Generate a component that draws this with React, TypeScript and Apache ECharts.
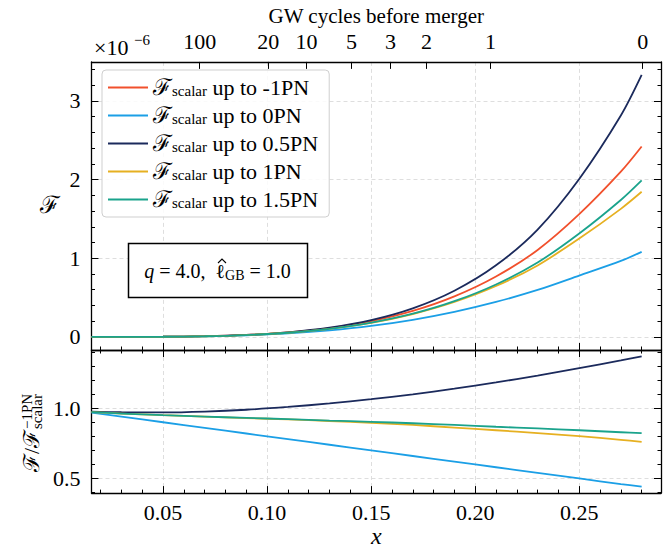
import React, { useEffect, useRef } from "react";
import * as echarts from "echarts";

// ---------- data ----------
const xValues = [0.0156, 0.03, 0.05, 0.07, 0.09, 0.11, 0.13, 0.15, 0.17, 0.19, 0.21, 0.23, 0.25, 0.27, 0.28];

// flux, units of 1e-6
const fluxM1PN = [0.00002, 0.0003, 0.0025, 0.0095, 0.026, 0.058, 0.113, 0.2, 0.33, 0.515, 0.768, 1.105, 1.56, 2.1, 2.42];
const flux0PN = [0.00002, 0.00028, 0.00225, 0.0082, 0.0213, 0.0452, 0.0836, 0.14, 0.218, 0.319, 0.445, 0.597, 0.78, 0.966, 1.082];
const flux05PN = [0.00002, 0.00029, 0.00243, 0.0093, 0.0257, 0.0586, 0.117, 0.213, 0.363, 0.587, 0.91, 1.365, 2.008, 2.814, 3.33];
const flux1PN = [0.00002, 0.00029, 0.00238, 0.0089, 0.0242, 0.0534, 0.1027, 0.179, 0.291, 0.444, 0.647, 0.909, 1.25, 1.628, 1.845];
const flux15PN = [0.00002, 0.00029, 0.00238, 0.0089, 0.0242, 0.0535, 0.103, 0.181, 0.295, 0.454, 0.667, 0.946, 1.315, 1.741, 1.99];

// ratio to -1PN
const ratio0PN = [0.969, 0.94, 0.9, 0.86, 0.82, 0.78, 0.74, 0.7, 0.66, 0.62, 0.58, 0.54, 0.5, 0.46, 0.442];
const ratio05PN = [0.975, 0.971, 0.97, 0.976, 0.989, 1.009, 1.034, 1.064, 1.099, 1.139, 1.183, 1.232, 1.285, 1.34, 1.368];
const ratio1PN = [0.972, 0.962, 0.95, 0.94, 0.93, 0.92, 0.909, 0.896, 0.881, 0.862, 0.843, 0.823, 0.801, 0.775, 0.76];
const ratio15PN = [0.972, 0.962, 0.95, 0.94, 0.931, 0.922, 0.912, 0.903, 0.893, 0.881, 0.868, 0.856, 0.843, 0.829, 0.822];

const legendNames = ["-1PN", "0PN", "0.5PN", "1PN", "1.5PN"];
const colors = ["#F1502C", "#1B9FE6", "#1B2A5C", "#E6B021", "#1AA38C"];

// ticks
const majorXTicks = [0.05, 0.1, 0.15, 0.2, 0.25];
const minorXTicks = [0.02, 0.03, 0.04, 0.06, 0.07, 0.08, 0.09, 0.11, 0.12, 0.13, 0.14, 0.16, 0.17, 0.18, 0.19, 0.21, 0.22, 0.23, 0.24, 0.26, 0.27, 0.28];
const gwCycleX = [0.0676, 0.1005, 0.1189, 0.1406, 0.1593, 0.1766, 0.2074, 0.2805];
const gwCycleLabels = ["100", "20", "10", "5", "3", "2", "1", "0"];
const topYMajor = [0, 1, 2, 3];
const topYMinor = [0.2, 0.4, 0.6, 0.8, 1.2, 1.4, 1.6, 1.8, 2.2, 2.4, 2.6, 2.8, 3.2, 3.4];
const botYMajor = [0.5, 1.0];
const botYMinor = [0.4, 0.6, 0.7, 0.8, 0.9, 1.1, 1.2, 1.3, 1.4];

const X_MIN = 0.0156;
const X_MAX = 0.2893;
const TOP_Y_MIN = -0.166;
const TOP_Y_MAX = 3.496;
const BOT_Y_MIN = 0.396;
const BOT_Y_MAX = 1.414;

const FONT = "Liberation Serif";
const GRID_LINE = { color: "#d6d6d6", width: 0.8, type: [4, 3] as any };
const AXIS_LINE = { color: "#000", width: 1.3 };

function axis(
  kind: "x" | "y",
  gridIndex: number,
  position: string,
  ticks: number[],
  tickLen: number,
  opts: { line?: boolean; labels?: boolean; split?: boolean; formatter?: any; margin?: number; extra?: any } = {}
) {
  const isX = kind === "x";
  const min = isX ? X_MIN : gridIndex === 0 ? TOP_Y_MIN : BOT_Y_MIN;
  const max = isX ? X_MAX : gridIndex === 0 ? TOP_Y_MAX : BOT_Y_MAX;
  return {
    type: "value",
    gridIndex,
    position,
    min,
    max,
    splitNumber: !isX && gridIndex === 1 ? 2 : 5,
    axisLine: { show: !!opts.line, onZero: false, lineStyle: AXIS_LINE },
    axisTick: {
      show: true,
      inside: true,
      length: tickLen,
      customValues: ticks,
      lineStyle: { color: "#000", width: 1 },
    },
    axisLabel: opts.labels
      ? {
          show: true,
          customValues: ticks,
          formatter: opts.formatter,
          margin: opts.margin ?? 8,
          fontFamily: FONT,
          fontSize: 22,
          color: "#000",
        }
      : { show: false },
    splitLine: opts.split ? { show: true, lineStyle: GRID_LINE } : { show: false },
    minorTick: { show: false },
    axisPointer: { show: false },
    ...(opts.extra || {}),
  };
}

export default function App() {
  const ref = useRef<HTMLDivElement>(null);

  useEffect(() => {
    if (!ref.current) return;
    const chart = echarts.init(ref.current, undefined, { renderer: "svg" });

    const xAxis = [
      axis("x", 0, "bottom", majorXTicks, 7, { line: true, split: true }),
      axis("x", 0, "bottom", minorXTicks, 3.5),
      axis("x", 0, "top", gwCycleX, 7, {
        line: true,
        labels: true,
        margin: 9,
        formatter: (v: number) => {
          const i = gwCycleX.findIndex((g) => Math.abs(g - v) < 1e-6);
          return i >= 0 ? gwCycleLabels[i] : "";
        },
        extra: {
          name: "GW cycles before merger",
          nameLocation: "middle",
          nameGap: 29,
          nameTextStyle: { fontFamily: FONT, fontSize: 21, color: "#000" },
        },
      }),
      axis("x", 1, "bottom", majorXTicks, 7, {
        line: true,
        split: true,
        labels: true,
        margin: 8,
        formatter: (v: number) => v.toFixed(2),
        extra: {
          name: "x",
          nameLocation: "middle",
          nameGap: 23,
          nameTextStyle: { fontFamily: FONT, fontSize: 24, fontStyle: "italic", color: "#000" },
        },
      }),
      axis("x", 1, "bottom", minorXTicks, 3.5),
      axis("x", 1, "top", majorXTicks, 7, { line: true }),
      axis("x", 1, "top", minorXTicks, 3.5),
    ];

    const yAxis = [
      axis("y", 0, "left", topYMajor, 7, {
        line: true,
        split: true,
        labels: true,
        margin: 11,
        formatter: (v: number) => String(Math.round(v)),
      }),
      axis("y", 0, "left", topYMinor, 3.5),
      axis("y", 0, "right", topYMajor, 7, { line: true }),
      axis("y", 0, "right", topYMinor, 3.5),
      axis("y", 1, "left", botYMajor, 7, {
        line: true,
        split: true,
        labels: true,
        margin: 11,
        formatter: (v: number) => v.toFixed(1),
      }),
      axis("y", 1, "left", botYMinor, 3.5),
      axis("y", 1, "right", botYMajor, 7, { line: true }),
      axis("y", 1, "right", botYMinor, 3.5),
    ];

    const topFlux = [fluxM1PN, flux0PN, flux05PN, flux1PN, flux15PN];
    const ratios = [null, ratio0PN, ratio05PN, ratio1PN, ratio15PN];

    const series: any[] = [];
    topFlux.forEach((arr, k) => {
      series.push({
        type: "line",
        name: legendNames[k],
        xAxisIndex: 0,
        yAxisIndex: 0,
        data: xValues.map((x, i) => [x, arr[i]]),
        showSymbol: false,
        smooth: 0.3,
        color: colors[k],
        lineStyle: { width: 1.8, color: colors[k] },
        z: 3,
      });
    });
    ratios.forEach((arr, k) => {
      if (!arr) return;
      series.push({
        type: "line",
        name: "ratio " + legendNames[k],
        xAxisIndex: 3,
        yAxisIndex: 4,
        data: xValues.map((x, i) => [x, arr[i]]),
        showSymbol: false,
        smooth: 0.3,
        color: colors[k],
        lineStyle: { width: 1.8, color: colors[k] },
        z: 3,
      });
    });

    const option: any = {
      animation: false,
      backgroundColor: "#fff",
      grid: [
        { left: 91.5, right: 2, top: 61, height: 289 },
        { left: 91.5, right: 2, top: 350, height: 145 },
      ],
      xAxis,
      yAxis,
      legend: {
        data: legendNames,
        orient: "vertical",
        left: 102,
        top: 70,
        padding: [6, 11, 6, 6],
        itemWidth: 40,
        itemHeight: 2,
        itemGap: 5,
        itemTextGap: 15,
        icon: "rect",
        selectedMode: false,
        backgroundColor: "rgba(255,255,255,0.85)",
        borderColor: "#cfcfcf",
        borderWidth: 1,
        borderRadius: 4,
        formatter: (name: string) => `{f|ℱ}{s|scalar}{t| up to ${name}}`,
        textStyle: {
          fontFamily: FONT,
          fontSize: 22,
          color: "#000",
          rich: {
            f: { fontFamily: FONT, fontSize: 23, lineHeight: 22, color: "#000" },
            s: { fontFamily: FONT, fontSize: 15, lineHeight: 10, verticalAlign: "bottom", color: "#000" },
            t: { fontFamily: FONT, fontSize: 22, lineHeight: 22, color: "#000" },
          },
        },
      },
      series,
      graphic: [
        {
          type: "rect",
          shape: { x: 128.5, y: 243.5, width: 179, height: 54 },
          style: { fill: "#fff", stroke: "#000", lineWidth: 1.5 },
          z: 10,
        },
        {
          type: "text",
          x: 217.5,
          y: 271,
          z: 11,
          style: {
            text: "{i|q} = 4.0,  {l|ℓ}{s|GB} = 1.0",
            align: "center",
            verticalAlign: "middle",
            fontFamily: FONT,
            fontSize: 20,
            fill: "#000",
            rich: {
              i: { fontFamily: FONT, fontSize: 20, fontStyle: "italic", lineHeight: 22 },
              l: { fontFamily: FONT, fontSize: 20, lineHeight: 22 },
              s: { fontFamily: FONT, fontSize: 14, lineHeight: 10, verticalAlign: "bottom" },
            },
          },
        },
        {
          type: "polyline",
          z: 12,
          shape: { points: [[218, 263], [222, 259], [226, 263]] },
          style: { stroke: "#000", lineWidth: 1.1, fill: "none" },
        },
        {
          type: "text",
          x: 94,
          y: 47,
          style: { text: "×10", fontFamily: FONT, fontSize: 22, fill: "#000", verticalAlign: "middle" },
        },
        {
          type: "text",
          x: 134,
          y: 40,
          style: { text: "−6", fontFamily: FONT, fontSize: 15, fill: "#000", verticalAlign: "middle" },
        },
        {
          type: "text",
          x: 50,
          y: 205,
          style: { text: "ℱ", fontFamily: FONT, fontSize: 24, fill: "#000", align: "center", verticalAlign: "middle" },
        },
        {
          type: "group",
          x: 31.5,
          y: 472,
          rotation: Math.PI / 2,
          children: [
            {
              type: "text",
              x: 0,
              y: 0,
              style: { text: "ℱ/ℱ", fontFamily: FONT, fontSize: 22, fill: "#000", align: "left", verticalAlign: "middle" },
            },
            {
              type: "text",
              x: 43,
              y: -5,
              style: { text: "−1PN", fontFamily: FONT, fontSize: 15, fill: "#000", align: "left", verticalAlign: "middle" },
            },
            {
              type: "text",
              x: 43,
              y: 5.5,
              style: { text: "scalar", fontFamily: FONT, fontSize: 15, fill: "#000", align: "left", verticalAlign: "middle" },
            },
          ],
        },
      ],
    };

    chart.setOption(option);
    return () => chart.dispose();
  }, []);

  return (
    <div
      ref={ref}
      style={{ position: "fixed", left: 0, top: 0, width: 663, height: 549, background: "#fff" }}
    />
  );
}
